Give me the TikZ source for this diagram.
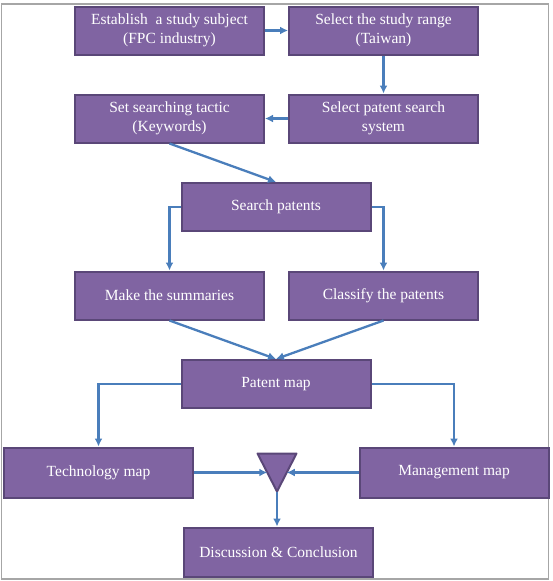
\documentclass[tikz,border=0pt]{standalone}
\usepackage{fontspec}
\setmainfont{Liberation Serif}
\usepackage{xcolor}
\usetikzlibrary{arrows.meta}

\definecolor{boxfill}{HTML}{8064A2}
\definecolor{boxline}{HTML}{5A4778}
\definecolor{flow}{HTML}{4A7EBB}

\tikzset{
  box/.style={rectangle, draw=boxline, fill=boxfill, line width=2pt,
    minimum width=189pt, minimum height=48pt, inner sep=0pt,
    align=center, text=white, font=\fontsize{15.5}{18.5}\selectfont},
  flowline/.style={draw=flow, line width=2.3pt, -{Latex[length=8pt,width=8pt]}}
}

\begin{document}
\begin{tikzpicture}[x=1pt, y=-1pt, node distance=214pt]
        \useasboundingbox (0,0) rectangle (552,581);
        \draw[gray!70, line width=1.5pt] (1.5,4) rectangle (548.5,579);

        \node[box] (est) at (169.5,30.5) {Establish \ a study subject\\(FPC industry)};
        \node[box, right of=est] (rng) {Select the study range\\(Taiwan)};
        \node[box] (tac) at (169.5,118.5) {Set searching tactic\\(Keywords)};
        \node[box, right of=tac] (sys) {Select patent search\\system};
        \node[box] (srch) at (276,207) {Search patents};
        \node[box] (summ) at (169.5,295.5) {Make the summaries};
        \node[box, right of=summ] (cls) {Classify the patents};
        \node[box] (pmap) at (276,384) {Patent map};
        \node[box, minimum height=50pt] (tech) at (98.5,472.5) {Technology map};
        \node[box, minimum height=50pt] (mgmt) at (454,472.5) {Management map};
        \node[box, minimum height=49pt] (disc) at (278.5,552) {Discussion \& Conclusion};

        % merge triangle
        \draw[draw=boxline, fill=boxfill, line width=2pt, line join=round]
          (257.5,453.5) -- (296.5,453.5) -- (277,491.5) -- cycle;
        \coordinate (triL) at (267.25,472.5);
        \coordinate (triR) at (286.75,472.5);
        \coordinate (triA) at (277,491.5);

        \draw[flowline] (est) -- (rng);
        \draw[flowline] (rng) -- (sys);
        \draw[flowline] (sys) -- (tac);
        \draw[flowline] (tac.south) -- (srch.north);
        \draw[flowline] (srch.west) -| (summ.north);
        \draw[flowline] (srch.east) -| (cls.north);
        \draw[flowline] (summ.south) -- (pmap.north);
        \draw[flowline] (cls.south) -- (pmap.north);
        \draw[flowline] (pmap.west) -| (tech.north);
        \draw[flowline] (pmap.east) -| (mgmt.north);
        \draw[flowline] (tech.east) -- (triL);
        \draw[flowline] (mgmt.west) -- (triR);
        \draw[flowline] (triA) -- (triA |- disc.north);
    \end{tikzpicture}
\end{document}
